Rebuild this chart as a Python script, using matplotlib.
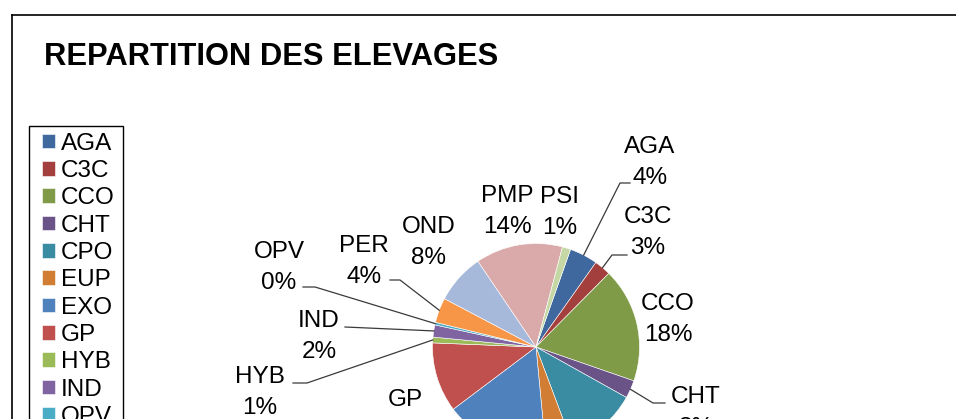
import matplotlib
matplotlib.use("Agg")
import matplotlib.pyplot as plt
from matplotlib.patches import Rectangle
import numpy as np

# ---------------- data ----------------
categories = ["AGA", "C3C", "CCO", "CHT", "CPO", "EUP", "EXO", "GP",
              "HYB", "IND", "OPV", "PER", "OND", "PMP", "PSI"]
shares = [4.4, 2.6, 17.9, 2.8, 11.2, 4.2, 16.25, 10.9,
          0.9, 1.9, 0.4, 3.9, 7.8, 13.6, 1.3]
colors = ["#3F689E", "#A33F3C", "#7F9B48", "#6A5387", "#3A8CA3", "#D17E34",
          "#4F81BD", "#C0504D", "#9BBB59", "#8064A2", "#4BACC6", "#F79646",
          "#A7B9DA", "#D9AAA9", "#C4D7A5"]
title = "REPARTITION DES ELEVAGES"

# ---------------- layout (pixel coords, y from top) ----------------
W, H = 956, 419
FONT = "Liberation Sans"
FS = 17.5
label_pos = {  # x center, y of name line
    "AGA": (650, 147), "C3C": (648, 217), "CCO": (668, 304), "CHT": (696, 397),
    "CPO": (640, 470), "EUP": (560, 485), "EXO": (470, 485), "GP": (405, 400),
    "HYB": (260, 377), "IND": (319, 321), "OPV": (279, 252), "PER": (364, 246),
    "OND": (429, 227), "PMP": (507, 196), "PSI": (560, 197),
}
leaders = {  # points from text side towards the slice (rim point appended)
    "AGA": [(630, 183), (620, 183)],
    "C3C": [(627, 255), (612, 255)],
    "CHT": [(665, 403), (653, 403)],
    "PER": [(390, 280), (400, 280)],
    "OPV": [(303, 287), (315, 287)],
    "IND": [(345, 327)],
    "HYB": [(293, 383), (307, 383)],
}
cx, cy, R = 536, 347, 103.5
first_angle = 19.5  # degrees clockwise from 12 o'clock


def Y(y):
    return H - y


fig = plt.figure(figsize=(W / 100, H / 100), dpi=100)
ax = fig.add_axes([0, 0, 1, 1])

wedges, _ = ax.pie(shares, colors=colors, startangle=90 - first_angle,
                   counterclock=False, center=(cx, Y(cy)), radius=R,
                   wedgeprops=dict(linewidth=0.4, edgecolor="white"))
ax.set_xlim(0, W)
ax.set_ylim(0, H)
ax.set_aspect("equal")
ax.axis("off")

total = sum(shares)
for w, name, val in zip(wedges, categories, shares):
    x, y = label_pos[name]
    ax.text(x, Y(y), name, ha="center", va="center", fontsize=FS,
            family=FONT, color="black")
    ax.text(x, Y(y + 31), f"{round(100 * val / total):d}%", ha="center",
            va="center", fontsize=FS, family=FONT, color="black")
    if name in leaders:
        mid = np.deg2rad((w.theta1 + w.theta2) / 2)
        rim = (cx + R * np.cos(mid), Y(cy) + R * np.sin(mid))
        pts = [(px, Y(py)) for px, py in leaders[name]] + [rim]
        xs, ys = zip(*pts)
        ax.plot(xs, ys, color="#3a3a3a", lw=0.9, clip_on=False, zorder=3)

# chart border (top and left visible)
ax.plot([12, W + 5], [Y(15), Y(15)], color="black", lw=1.2, clip_on=False)
ax.plot([12, 12], [Y(15), -5], color="black", lw=1.2, clip_on=False)

# title
ax.text(44, Y(57), title, ha="left", va="center", fontsize=22.2,
        fontweight="bold", family=FONT, color="black")

# legend box
ax.add_patch(Rectangle((29, -10), 94, Y(126) + 10, facecolor="none",
                       edgecolor="black", lw=1.0, clip_on=False))
leg = ax.legend(wedges, categories, loc="upper left",
                bbox_to_anchor=(36 / W, 1 - 126.5 / H),
                bbox_transform=fig.transFigure, borderaxespad=0,
                frameon=False,
                prop={"family": FONT, "size": FS},
                handlelength=0.55, handleheight=0.55, handletextpad=0.22,
                labelspacing=0.22, borderpad=0.25)

fig.savefig("out.png", dpi=100)
